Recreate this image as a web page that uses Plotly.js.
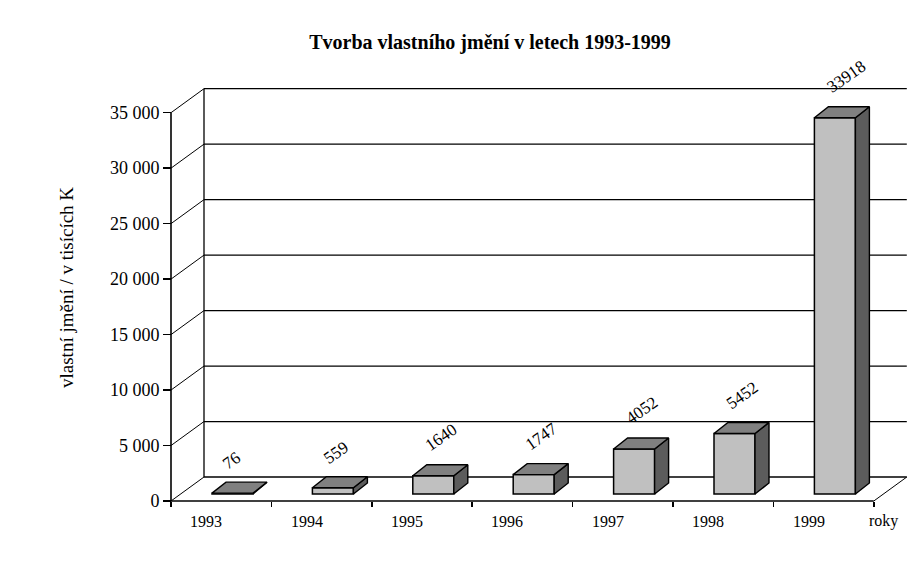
<!DOCTYPE html>
<html>
<head>
<meta charset="utf-8">
<script src="https://cdn.plot.ly/plotly-3.0.1.min.js"></script>
<style>html,body{margin:0;padding:0;background:#fff;}#chart{width:921px;height:584px;}</style>
</head>
<body>
<div id="chart"></div>
<script>
// ---- data ----
const years = ['1993', '1994', '1995', '1996', '1997', '1998', '1999'];
const values = [76, 559, 1640, 1747, 4052, 5452, 33918];
const valueLabels = ['76', '559', '1640', '1747', '4052', '5452', '33918'];
const yTickVals = [0, 5000, 10000, 15000, 20000, 25000, 30000, 35000];
const yTickText = ['0', '5 000', '10 000', '15 000', '20 000', '25 000', '30 000', '35 000'];
const titleText = 'Tvorba vlastního jmění v letech 1993-1999';
const yTitleText = 'vlastní jmění / v tisících K';
const xTitleText = 'roky';

// ---- geometry (pixel-based pseudo 3D, converted to data units) ----
const W = 921, H = 584;
const M = {l: 120, r: 5, t: 60, b: 40};
const axisPx = 171, floorPx = 501;      // front axis x, floor y (px)
const catPx = 100.4;                     // px per category
const pxPerUnit = 388.3 / 35000;         // px per value unit
const plotW = W - M.l - M.r, plotH = H - M.t - M.b;
const xr = [(M.l - axisPx) / catPx, (W - M.r - axisPx) / catPx];
const yr = [-(H - M.b - floorPx) / pxPerUnit, (floorPx - M.t) / pxPerUnit];
const wallDx = 33 / catPx, wallDy = 24 / pxPerUnit;       // back wall offset
const barX0 = 41 / catPx, barW = 41 / catPx;              // bar front face
const barBase = 7 / pxPerUnit;                            // bar set back
const depDx = 14 / catPx, depDy = 11 / pxPerUnit;         // bar depth

const serif = 'Liberation Serif, Times New Roman, serif';
const traces = [];

// front faces as bars
traces.push({
  type: 'bar',
  x: years.map((_, i) => i + barX0 + barW / 2),
  y: values,
  base: values.map(() => barBase),
  width: barW,
  marker: {color: '#c0c0c0', line: {color: '#000', width: 1.5}},
  hoverinfo: 'skip', showlegend: false
});
// top & side faces
values.forEach((v, i) => {
  const x0 = i + barX0, x1 = x0 + barW, yb = barBase, yt = barBase + v;
  traces.push({
    type: 'scatter', mode: 'lines', fill: 'toself', fillcolor: '#5c5c5c',
    x: [x1, x1 + depDx, x1 + depDx, x1, x1],
    y: [yb, yb + depDy, yt + depDy, yt, yb],
    line: {color: '#000', width: 1.4}, hoverinfo: 'skip', showlegend: false
  });
  traces.push({
    type: 'scatter', mode: 'lines', fill: 'toself', fillcolor: '#808080',
    x: [x0, x1, x1 + depDx, x0 + depDx, x0],
    y: [yt, yt, yt + depDy, yt + depDy, yt],
    line: {color: '#000', width: 1.4}, hoverinfo: 'skip', showlegend: false
  });
});

// walls, gridlines and floor as shapes
const shapes = [];
const ln = (x0, y0, x1, y1, w) => ({type: 'line', xref: 'x', yref: 'y', x0, y0, x1, y1,
  line: {color: '#000', width: w || 1.3}, layer: 'below'});
yTickVals.forEach(v => {
  shapes.push(ln(wallDx, v + wallDy, years.length + wallDx, v + wallDy));
  shapes.push(ln(0, v, wallDx, v + wallDy, 1));
});
shapes.push(ln(wallDx, wallDy, wallDx, yTickVals[yTickVals.length - 1] + wallDy));
shapes.push(ln(0, 0, 0, yTickVals[yTickVals.length - 1], 1.6));
shapes.push(ln(0, 0, years.length, 0, 1.6));
shapes.push(ln(years.length, 0, years.length + wallDx, wallDy, 1));

// annotations: value labels, category labels, axis titles
const annotations = [];
const charW = 10, lh = 17, ang = 35 * Math.PI / 180;
values.forEach((v, i) => {
  const w = valueLabels[i].length * charW;
  const cx = -4 + (w / 2) * Math.cos(ang) - (lh / 2) * Math.sin(ang);
  const cy = -20 - (w / 2) * Math.sin(ang) - (lh / 2) * Math.cos(ang);
  annotations.push({
    x: i + barX0 + barW / 2, y: barBase + v, xref: 'x', yref: 'y',
    text: valueLabels[i], showarrow: false, textangle: -35,
    xanchor: 'center', yanchor: 'middle', xshift: cx, yshift: -cy,
    font: {family: serif, size: 17, color: '#000'}
  });
});
years.forEach((yrTxt, i) => {
  annotations.push({
    x: i + 0.5, y: 0, xref: 'x', yref: 'y', text: yrTxt, showarrow: false,
    xanchor: 'center', yanchor: 'middle', xshift: -15, yshift: -20,
    font: {family: serif, size: 16, color: '#000'}
  });
});
annotations.push({
  x: years.length, y: 0, xref: 'x', yref: 'y', text: xTitleText, showarrow: false,
  xanchor: 'center', yanchor: 'middle', xshift: 10, yshift: -20,
  font: {family: serif, size: 16, color: '#000'}
});
annotations.push({
  x: 66 / W, y: 1 - 288 / H, xref: 'paper', yref: 'paper', text: yTitleText,
  showarrow: false, textangle: -90, xanchor: 'center', yanchor: 'middle',
  font: {family: serif, size: 19, color: '#000'}
});
// paper coordinates are relative to the plot area; convert from container px
annotations[annotations.length - 1].x = (66 - M.l) / plotW;
annotations[annotations.length - 1].y = (H - M.b - 288) / plotH;

const layout = {
  width: W, height: H,
  margin: M,
  paper_bgcolor: '#fff', plot_bgcolor: '#fff',
  title: {text: '<b>' + titleText + '</b>', x: 490 / W, xref: 'container', xanchor: 'center',
    y: 1 - 42 / H, yref: 'container', yanchor: 'middle',
    font: {family: serif, size: 20, color: '#000'}},
  xaxis: {range: xr, anchor: 'free', position: (H - M.b - floorPx) / plotH,
    tickmode: 'array', tickvals: years.map((_, i) => i).concat([years.length]),
    ticks: 'outside', ticklen: 5, tickwidth: 1.5, tickcolor: '#000',
    showticklabels: false, showgrid: false, zeroline: false, showline: false, fixedrange: true},
  yaxis: {range: yr, anchor: 'free', position: (axisPx - M.l) / plotW,
    tickmode: 'array', tickvals: yTickVals, ticktext: yTickText,
    ticks: 'outside', ticklen: 8, tickwidth: 1.5, tickcolor: '#000',
    tickfont: {family: serif, size: 18, color: '#000'},
    showgrid: false, zeroline: false, showline: false, fixedrange: true},
  shapes: shapes,
  annotations: annotations,
  showlegend: false,
  bargap: 0
};

Plotly.newPlot('chart', traces, layout, {displayModeBar: false, staticPlot: true});
</script>
</body>
</html>
